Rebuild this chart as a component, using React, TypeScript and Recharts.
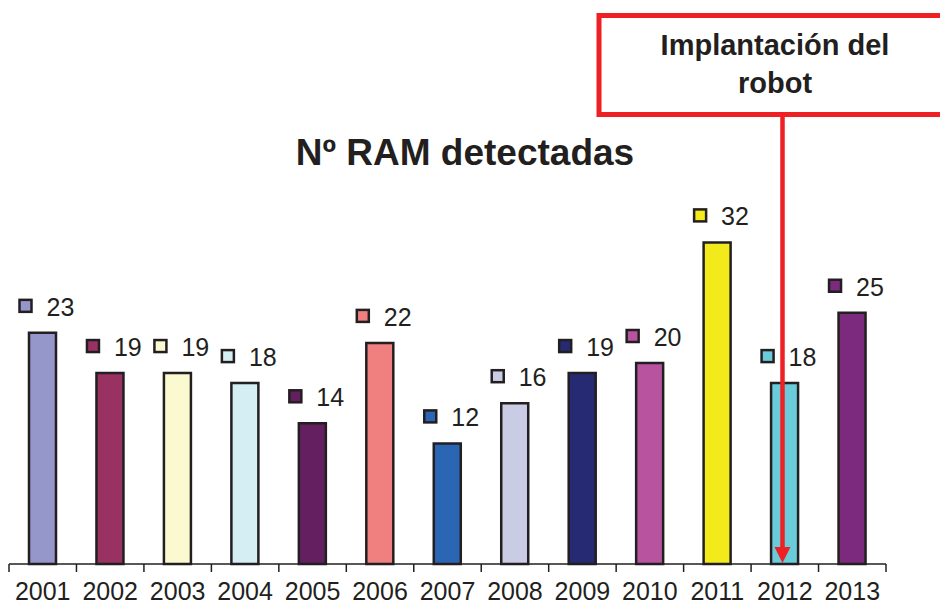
import React from "react";
import { BarChart, Bar, XAxis, YAxis, Cell, LabelList } from "recharts";

const years = ["2001","2002","2003","2004","2005","2006","2007","2008","2009","2010","2011","2012","2013"];
const ramCounts = [23, 19, 19, 18, 14, 22, 12, 16, 19, 20, 32, 18, 25];
const barColors = ["#9596C9","#9A3163","#FBF9D0","#D4EEF4","#631F5F","#F07F80","#2B66B4","#CACCE6","#262A73","#B853A0","#F3EA1B","#6ACCDA","#7B2A7D"];

const data = years.map((y, i) => ({ year: y, value: ramCounts[i] }));

const W = 940, H = 607;
const M = { top: 162, right: 54, bottom: 13, left: 9 };
const band = (W - M.left - M.right) / years.length;
const ink = "#231F20";
const font = "'Liberation Sans', Arial, Helvetica, sans-serif";

const Tick = (props: any) => {
  const { x, y, payload, index } = props;
  return (
    <g>
      <line x1={x - band / 2} x2={x - band / 2} y1={y} y2={y + 8} stroke={ink} strokeWidth={1.5} />
      {index === years.length - 1 && (
        <line x1={x + band / 2} x2={x + band / 2} y1={y} y2={y + 8} stroke={ink} strokeWidth={1.5} />
      )}
      <text x={x} y={y + 36} textAnchor="middle" fontSize={25} fill={ink} fontFamily={font}>
        {payload.value}
      </text>
    </g>
  );
};

const Label = (props: any) => {
  const { x, y, width, value, index } = props;
  const cx = x + width / 2;
  return (
    <g>
      <rect x={cx - 23} y={y - 33} width={12} height={12} fill={barColors[index]} stroke={ink} strokeWidth={2.5} />
      <text x={cx + 4} y={y - 17} fontSize={25} fill={ink} fontFamily={font}>{value}</text>
    </g>
  );
};

export default function App() {
  return (
    <div style={{ position: "absolute", left: 0, top: 0, width: W, height: H, overflow: "hidden", background: "#fff", fontFamily: font }}>
      <BarChart width={W} height={H} data={data} margin={M}>
        <XAxis
          dataKey="year"
          height={30}
          tickSize={0}
          tickMargin={0}
          axisLine={{ stroke: ink, strokeWidth: 1.5 }}
          tickLine={false}
          tick={<Tick />}
          interval={0}
        />
        <YAxis hide domain={[0, 40]} />
        <Bar dataKey="value" barSize={27} stroke={ink} strokeWidth={2.5} isAnimationActive={false}>
          {data.map((d, i) => (
            <Cell key={d.year} fill={barColors[i]} />
          ))}
          <LabelList dataKey="value" content={<Label />} />
        </Bar>
      </BarChart>
      <div style={{ position: "absolute", left: 0, width: 930, top: 132, textAlign: "center", fontSize: 37, fontWeight: "bold", color: ink, lineHeight: "42px" }}>
        Nº RAM detectadas
      </div>
      <svg width={W} height={H} style={{ position: "absolute", left: 0, top: 0, pointerEvents: "none" }}>
        <rect x={599} y={15.5} width={360} height={99} fill="#fff" stroke="#EE2024" strokeWidth={5} />
        <text x={775} y={55} textAnchor="middle" fontSize={29} fontWeight="bold" fill={ink} fontFamily={font}>Implantación del</text>
        <text x={775} y={93} textAnchor="middle" fontSize={29} fontWeight="bold" fill={ink} fontFamily={font}>robot</text>
        <line x1={782.5} x2={782.5} y1={117} y2={550} stroke="#EE2024" strokeWidth={4.5} />
        <polygon points="774.5,547 790.5,547 782.5,563" fill="#EE2024" />
      </svg>
    </div>
  );
}
